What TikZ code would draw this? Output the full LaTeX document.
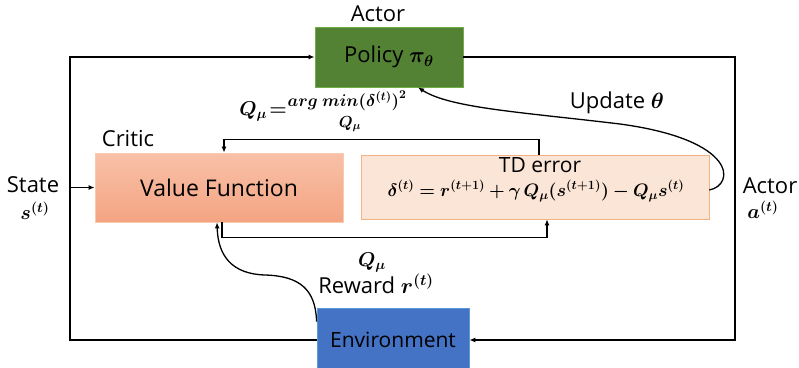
\RequirePackage{fix-cm}
\documentclass[tikz,border=0pt]{standalone}
\usepackage{amsmath,bm}
\usepackage{fontspec}
\setmainfont{Open Sans}
\usetikzlibrary{arrows.meta, positioning, calc}
\definecolor{policygreen}{HTML}{548235}
\definecolor{policyedge}{HTML}{70AD47}
\definecolor{valuetop}{HTML}{F8C1A8}
\definecolor{valuebot}{HTML}{F4A482}
\definecolor{valueedge}{HTML}{F8CBAD}
\definecolor{tdfill}{HTML}{FBE5D6}
\definecolor{tdedge}{HTML}{F4B183}
\definecolor{envblue}{HTML}{4472C4}
\definecolor{envedge}{HTML}{5B9BD5}

\begin{document}
\begin{tikzpicture}[
    x=1pt, y=-1pt,
    every node/.style={font=\fontsize{22}{24}\selectfont},
    policybox/.style={rectangle, draw=policyedge, fill=policygreen, line width=0.8pt, minimum width=148pt, minimum height=60pt},
    valuebox/.style={rectangle, draw=valueedge, top color=valuetop, bottom color=valuebot, line width=0.8pt, minimum width=248pt, minimum height=69pt},
    tdbox/.style={rectangle, draw=tdedge, fill=tdfill, line width=0.6pt, minimum width=348pt, minimum height=64pt},
    envbox/.style={rectangle, draw=envedge, fill=envblue, line width=0.8pt, minimum width=152pt, minimum height=64pt},
    arrow/.style={-{Latex[length=6pt, width=5pt]}, line width=1.3pt},
    mathlbl/.style={font=\fontsize{20}{22}\selectfont}
]
    \useasboundingbox (0,0) rectangle (799,367);

    % Boxes
    \node[policybox] (policy) at (389,57) {Policy $\bm{\pi_\theta}$};
    \node[valuebox, font=\fontsize{23}{25}\selectfont] (vf) at (219,187.5) {Value Function};
    \node[tdbox] (td) at (535,187) {};
    \node[envbox, font=\fontsize{21}{23}\selectfont] (env) at (393,340) {Environment};

    % Box labels
    \node (actortop) at (378,14) {Actor};
    \node (critic) at (128,139) {Critic};
    \node[font=\fontsize{21}{23}\selectfont] (tdlabel) at (540,165) {TD error};
    \node[font=\fontsize{18}{20}\selectfont] (tdformula) at (536,191)
        {$\bm{\delta^{(t)} = r^{(t+1)} + \gamma\, Q_\mu(s^{(t+1)}) - Q_\mu s^{(t)}}$};

    % Side labels
    \node (state) at (33,185) {State};
    \node[mathlbl] (statevar) at (35,211) {$\bm{s^{(t)}}$};
    \node (actorlbl) at (770,186) {Actor};
    \node[mathlbl] (actorvar) at (763,210) {$\bm{a^{(t)}}$};

    % Formula and edge labels
    \node[mathlbl] (qeq) at (263,111) {$\bm{Q_\mu\!=}$};
    \node[font=\fontsize{17}{19}\selectfont] (argmin) at (347,101) {$\bm{arg\ min(\delta^{(t)})^2}$};
    \node[font=\fontsize{16}{18}\selectfont] (qsub) at (350,124) {$\bm{Q_\mu}$};
    \node (update) at (617,103) {Update $\bm{\theta}$};
    \node[mathlbl] (qbot) at (372,262) {$\bm{Q_\mu}$};
    \node (reward) at (376,284) {Reward $\bm{r^{(t)}}$};

    % Outer loop
    \coordinate (lft) at (70,200);
    \coordinate (rgt) at (735,200);
    \draw[arrow] (env.west) -| (lft) |- (policy.west);
    \draw[arrow] (policy.east) -| (rgt) |- (env.east);
    \draw[arrow] (lft |- vf.west) -- (vf.west);

    % Critic loop
    \draw[arrow] ([xshift=4pt]td.north) -- ++(0,-15) -| ([xshift=5pt]vf.north);
    \draw[arrow] ([xshift=3pt]vf.south) -- ++(0,15) -| ([xshift=12pt]td.south);

    % Reward and update curves
    \draw[arrow] ([yshift=-14pt]env.north west) .. controls ++(-1,-32) and (300,276) .. (265,275)
        .. controls (232,274) and (218,256) .. ([xshift=-2pt]vf.south);
    \draw[arrow] ([yshift=-3pt]td.east) .. controls (735,185) and (738,140) .. (620,124)
        .. controls (520,112) and (450,108) .. ([xshift=29pt]policy.south);
\end{tikzpicture}
\end{document}
